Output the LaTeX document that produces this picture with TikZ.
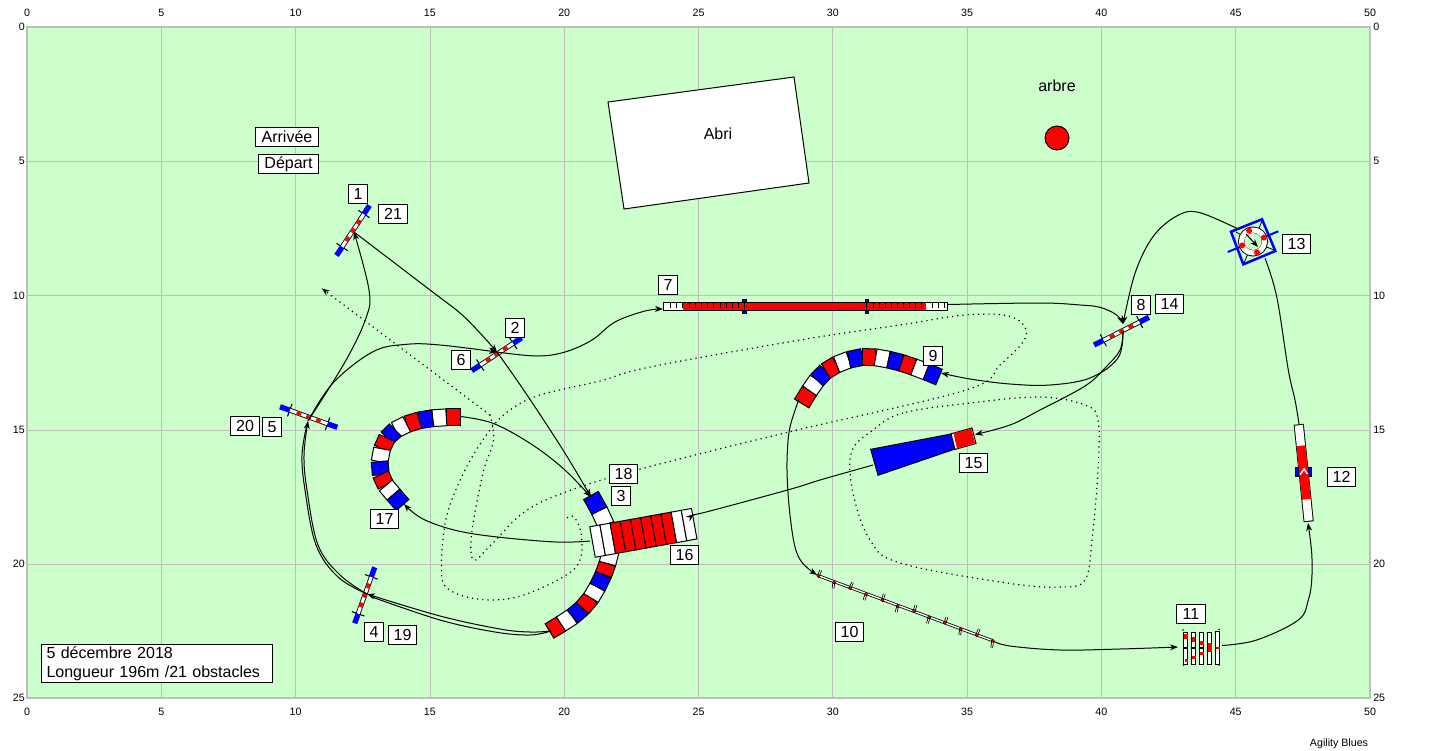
\documentclass[tikz,border=0pt]{standalone}
\usepackage{fontspec}
\setmainfont{Liberation Sans}
\usetikzlibrary{calc,arrows.meta}
\definecolor{turf}{HTML}{CCFFCC}
\definecolor{gridgrey}{HTML}{BEBEBE}
\definecolor{rred}{HTML}{FF0000}
\definecolor{bblue}{HTML}{0000FF}
\tikzset{
  course/.style={black,line width=.75pt,line join=round},
  hand/.style={black,line width=.9pt,dash pattern=on .9pt off 3pt},
  tip/.style={-{Stealth[length=6pt,width=4.5pt]}},
  lab/.style={draw=black,fill=white,line width=.75pt,inner sep=0pt,minimum height=14.25pt,minimum width=14.5pt,font=\fontsize{12}{14}\selectfont},
  labw/.style={lab,minimum width=21.25pt},
  axis/.style={inner sep=0pt,font=\fontsize{8}{9}\selectfont},
  seg/.style={draw=black,line width=.75pt,line join=miter},
  smoothp/.style={smooth,tension=.6}
}
% curved tunnel: half width, colour offset, boundary points
\newcommand\tunnelbody[3]{%
  \foreach \x/\y [remember=\x as \xp (initially 0),remember=\y as \yp (initially 0),count=\i] in {#3}{%
    \ifnum\i>1
      \pgfmathtruncatemacro\k{mod(\i+#2,3)}%
      \ifcase\k\def\cc{rred}\or\def\cc{white}\or\def\cc{bblue}\fi
      \filldraw[seg,fill=\cc] ($(\xp,\yp)!#1!90:(\x,\y)$) -- ($(\xp,\yp)!#1!-90:(\x,\y)$) -- ($(\x,\y)!#1!90:(\xp,\yp)$) -- ($(\x,\y)!#1!-90:(\xp,\yp)$) -- cycle;
    \fi
  }}
% hurdle
\newcommand\jumpbar[2]{%
  \coordinate (wa) at ($(#1)!.17!(#2)$);
  \coordinate (wb) at ($(#1)!.83!(#2)$);
  \draw[black,line width=.8pt] ($(wa)!5pt!90:(#2)$) -- ($(wa)!5pt!-90:(#2)$);
  \draw[black,line width=.8pt] ($(wb)!5pt!90:(#1)$) -- ($(wb)!5pt!-90:(#1)$);
  \draw[black,line width=3.6pt] (wa) -- (wb);
  \draw[white,line width=2.3pt] (wa) -- (wb);
  \foreach \s/\e in {.29/.37,.46/.54,.63/.71}
    \draw[rred,line width=2.4pt] ($(#1)!\s!(#2)$) -- ($(#1)!\e!(#2)$);
  \draw[bblue,line width=4pt] (#1) -- (wa);
  \draw[bblue,line width=4pt] (#2) -- (wb);
}
\begin{document}
\begin{tikzpicture}[x=.75pt,y=-.75pt]
\useasboundingbox (0,0) rectangle (1444,750);
\fill[white] (0,0) rectangle (1444,750);
% field
\fill[turf] (27,27) rectangle (1370,698);
\foreach \v in {161.5,295.5,430.5,564.5,698.5,832.5,967.5,1101.5,1235.5}
  \draw[gridgrey,line width=.9pt] (\v,27) -- (\v,698);
\foreach \v in {161.5,295.5,430.5,564.5}
  \draw[gridgrey,line width=.9pt] (27,\v) -- (1370,\v);
\draw[gridgrey,line width=2pt] (27,27) rectangle (1370,698);
% axis numbers
\foreach \n/\v [count=\c] in {0/27,5/161.3,10/295.6,15/429.9,20/564.2,25/698.5,30/832.8,35/967.1,40/1101.4,45/1235.7,50/1370}{
  \node[axis] (tx\c) at (\v,13) {\n};
  \node[axis] (bx\c) at (\v,712) {\n};
}
\foreach \n/\v [count=\c] in {0/27,5/161.2,10/295.4,15/429.6,20/563.8,25/698}{
  \node[axis,anchor=east] (ly\c) at (25,\v) {\n};
  \node[axis,anchor=west] (ry\c) at (1373,\v) {\n};
}
\node[axis] (brand) at (1339,744) {Agility Blues};
% shelter and tree
\filldraw[fill=white,draw=black,line width=.75pt] (608,102) -- (794,77) -- (809,183) -- (624,209) -- cycle;
\node[inner sep=0pt,font=\fontsize{12}{14}\selectfont] (abri) at (718,134) {Abri};
\filldraw[fill=rred,draw=black,line width=.75pt] (1057,138) circle (12);
\node[inner sep=0pt,font=\fontsize{12}{14}\selectfont] (arbre) at (1057,86) {arbre};
% obstacle anchor points
\coordinate (j1a) at (369.5,205.5); \coordinate (j1b) at (336.5,255.5);
\coordinate (j2a) at (521.7,337.7); \coordinate (j2b) at (471.7,370.7);
\coordinate (j5a) at (280,406.7);   \coordinate (j5b) at (337.3,427.3);
\coordinate (j4a) at (374.7,567.3); \coordinate (j4b) at (354.7,623.3);
\coordinate (j8a) at (1149,317.3);  \coordinate (j8b) at (1094,345);
\coordinate (in1) at (354,232);
\coordinate (in2) at (497,352);
\coordinate (in3) at (591,497);
\coordinate (in4) at (367,594);
\coordinate (in5) at (308,421);
\coordinate (in7) at (663,309);
\coordinate (in8) at (1123,324);
\coordinate (in9) at (941,373);
\coordinate (in10) at (817,575);
\coordinate (in11) at (1178,647);
\coordinate (in12) at (1308,523);
\coordinate (tyre) at (1253,241.5);
\coordinate (tyrein) at (1265,258.3);
\coordinate (tyreout) at (1237,228.5);
\coordinate (in15) at (975,434.5);
\coordinate (in16) at (694,514);
\coordinate (in17) at (404,504);
\coordinate (out3) at (551,631);
\coordinate (out7) at (947.7,304.5);
\coordinate (out8) at (1123,331);
\coordinate (out9) at (799,399);
\coordinate (out10) at (993,641);
\coordinate (out11) at (1222,645.5);
\coordinate (out12) at (1299,424);
\coordinate (out15) at (873,465);
\coordinate (out16) at (590,541);
\coordinate (out17) at (460.5,416.5);
% handler's route (dotted)
\coordinate (hookstart) at (567,518);
\coordinate (handend) at (321.7,288.3);
\draw[hand] plot[smoothp] coordinates {(hookstart) (574,517) (581,533) (580,560) (563,577) (517,597) (477,599) (447,588) (441.5,567) (446.5,517) (465,470) (490,430) (510,410) (540,395) (600,381) (650,367) (800,340) (900,325) (966,315) (1012,317) (1026,336) (1000,365) (966,390) (790,431.7) (636.7,470) (563,493) (523,513) (490,546) (473.5,560) (471.7,533) (483,473) (493.5,440) (490,415)};
\draw[hand,tip] (490,415) -- (handend);
\draw[hand] plot[smooth cycle,tension=.6] coordinates {(970,403) (903,413) (873,430) (851.5,452) (853,493) (870,540) (900,563) (1006.7,583) (1060,587) (1085,580) (1092,540) (1098,470) (1098,420) (1085,405) (1040,397)};
% jumps
\jumpbar{j1a}{j1b}
\jumpbar{j2a}{j2b}
\jumpbar{j5a}{j5b}
\jumpbar{j4a}{j4b}
\jumpbar{j8a}{j8b}
% curved tunnels
\tunnelbody{6.3pt}{1}{460/417.3,446.3/417.3,432.6/418.2,419.3/420.3,406.7/424.2,395.3/430,387/438,382/448.8,379.6/461.6,380.8/474.6,385.8/485.5,393.5/494.6,402.5/505}
\tunnelbody{6.3pt}{1}{801.7/403.5,809.5/390.7,817/380,825.8/371,836.6/364.5,849/359.7,862.3/357,875.6/357.3,888.6/359.6,901.3/362.8,913.8/367,926.3/371.8,939/377}
\tunnelbody{6.3pt}{1}{549.5/631,561/624,572.5/616.5,582.5/608,591/598,597.5/587,603.5/574.5,607.5/563.5,611/550,609/537,606/525,599.3/510.5,591/495.5}
% rigid tunnel 16
\coordinate (t16a) at (592.5,542);
\coordinate (t16b) at (694.2,523.7);
\foreach \i [evaluate=\i as \s using \i/10, evaluate=\i as \e using (\i+1)/10] in {0,...,9}{
  \ifnum\i<2 \def\cc{white}\else\ifnum\i>7 \def\cc{white}\else\def\cc{rred}\fi\fi
  \coordinate (ts) at ($(t16a)!\s!(t16b)$);
  \coordinate (te) at ($(t16a)!\e!(t16b)$);
  \filldraw[seg,fill=\cc] ($(ts)!11.6pt!90:(te)$) -- ($(ts)!11.6pt!-90:(te)$) -- ($(te)!11.6pt!90:(ts)$) -- ($(te)!11.6pt!-90:(ts)$) -- cycle;
}
% collapsed tunnel 15
\filldraw[seg,fill=bblue] (870.7,449.3) -- (878,475.3) -- (955,449) -- (951,434) -- cycle;
\filldraw[seg,fill=white] (951,433.8) -- (955,449.4) -- (976,443.5) -- (972,428) -- cycle;
\fill[rred] (953.5,433.3) -- (957,448.4) -- (975,443) -- (971.3,428.6) -- cycle;
% dog walk 7
\filldraw[fill=white,draw=black,line width=.75pt] (663.3,302.3) rectangle (947.7,310.3);
\fill[rred] (683.3,302.7) rectangle (926,309.9);
\foreach \v in {670,676,682,689.4,695.5,701.6,707.7,713.8,719.9,726,732.1,738.2,873,879,885,891,897,903,909,915,921,932,938,944}
  \draw[black,line width=.6pt] (\v,302.3) -- (\v,308);
\foreach \v in {744,866.7}{
  \draw[black,line width=.75pt] (\v,300) -- (\v,312.5);
  \fill[bblue,draw=black,line width=.2pt] (\v-1.7,299.3) rectangle (\v+1.7,302);
  \fill[bblue,draw=black,line width=.2pt] (\v-1.7,310.7) rectangle (\v+1.7,313.3);
}
% weave poles 10
\coordinate (w10a) at (818.3,575.7);
\coordinate (w10b) at (992.7,640.7);
\draw[black,line width=2.2pt] (w10a) -- (w10b);
\draw[white,line width=1pt] (w10a) -- (w10b);
\foreach \x/\y/\dx/\dy in {818.3/575.7/2.5/-5.5,834/582.3/-1/6,850/588/2.5/-5.5,866/594/-2/6,882.3/600/2/-6,897.7/606/-1.5/6,914/611/2/-6,929/617.3/-1.5/6,945/622.7/2/-5.5,960.7/629/-1/6,976.7/635/2.5/-6,992.7/640.7/-1/7}{
  \draw[black,line width=1.9pt] (\x,\y) -- ++(\dx,\dy);
  \draw[white,line width=.7pt] (\x,\y) -- ++(\dx,\dy);
  \fill[rred,draw=black,line width=.3pt] (\x,\y) circle (1.7);
}
% hoops 11
\foreach \v in {1185.7,1193.3,1201.7,1209.7}{
  \filldraw[fill=white,draw=black,line width=.75pt] (\v-2,632.7) rectangle (\v+2,647.3);
  \filldraw[fill=white,draw=black,line width=.75pt] (\v-2,648.7) rectangle (\v+2,664.3);
}
\filldraw[fill=white,draw=black,line width=.75pt] (1215.7,631) rectangle (1219.7,647.3);
\filldraw[fill=white,draw=black,line width=.75pt] (1215.7,648.7) rectangle (1219.7,664.3);
\fill[rred] (1184,633.5) rectangle (1187.6,638.5);
\fill[rred] (1191.5,636.5) rectangle (1195.2,641.5);
\fill[rred] (1199.5,640.5) rectangle (1203.5,645);
\fill[rred] (1207.7,643) rectangle (1211.7,652);
\fill[rred] (1216,647.3) rectangle (1219.7,649);
\fill[rred] (1184.5,659) rectangle (1188,661.5);
\fill[rred] (1192,656) rectangle (1196,659);
\fill[rred] (1200,652) rectangle (1204,655);
\foreach \x/\y in {1183/630,1219/629.5,1183.5/665,1219/665}
  \fill[black] (\x,\y) circle (.9);
% A-frame 12
\coordinate (af1) at (1298.7,424.3);
\coordinate (af2) at (1308.7,521.7);
\coordinate (afm) at ($(af1)!.49!(af2)$);
\fill[bblue,draw=black,line width=.3pt] ($(afm)+(-8,-4.5)$) rectangle ($(afm)+(8,4.5)$);
\draw[black,line width=7.6pt] (af1) -- (af2);
\draw[white,line width=6.2pt] ($(af1)!.01!(af2)$) -- ($(af1)!.99!(af2)$);
\draw[rred,line width=6.6pt] ($(af1)!.22!(af2)$) -- ($(af1)!.77!(af2)$);
\draw[white,line width=1.1pt] ($(afm)+(-3.5,2.5)$) -- ($(afm)+(.5,-3)$) -- ($(afm)+(3.8,2)$);
% tyre 13
\draw[black,line width=.6pt] (1236,232) -- (tyre) (1262,221) -- (tyre) (1274,250) -- (tyre) (1244,263) -- (tyre);
\draw[bblue,line width=1.5pt] (1227.7,252) -- (1278.3,231.3);
\draw[black,line width=5.2pt] (tyre) circle (11.5);
\draw[white,line width=3.8pt] (tyre) circle (11.5);
\fill[turf] (tyre) circle (8.5);
\foreach \a in {-110,-20,70,160}
  \fill[rred] ($(tyre)+(\a:11.5)$) circle (3);
\draw[bblue,line width=1.9pt] (1231,231.7) -- (1262,219.3) -- (1275.3,251) -- (1243.3,264.3) -- cycle;
\draw[course,tip] (1246,234) -- (1258,247);
% course
\draw[course,tip] plot[smoothp] coordinates {(in1) (430,290) (460,313) (480,333) (in2)};
\draw[course,tip] plot[smoothp] coordinates {(in2) (525,392) (563,450) (in3)};
\draw[course,tip] plot[smoothp] coordinates {(out3) (530,632) (500,629) (440,616) (in4)};
\draw[course] plot[smoothp] coordinates {(out3) (530,635) (495,632) (440,620) (372,597)};
\draw[course,tip] plot[smoothp] coordinates {(in4) (340,575) (318,545) (307,490) (304,455) (in5)};
\draw[course] plot[smoothp] coordinates {(in4) (338,577) (316,545) (305,490) (302,455) (307,424)};
\draw[course,tip] plot[smoothp] coordinates {(in5) (333,383) (373,351.7) (406.7,344.3) (440,345) (in2)};
\draw[course,tip] plot[smoothp] coordinates {(in5) (345,362) (366,318) (369,290) (in1)};
\draw[course,tip] plot[smoothp] coordinates {(in2) (537,356) (565,352) (592,340) (615,322) (645,311) (in7)};
\draw[course,tip] plot[smoothp] coordinates {(out7) (1040,303) (1080,305) (1100,307.3) (1116.7,315) (in8)};
\draw[course,tip] plot[smoothp] coordinates {(out8) (1118,358) (1090,378) (1050,385) (1010,384) (970,379) (in9)};
\draw[course,tip] plot[smoothp] coordinates {(out9) (790,427) (787.3,453) (787.3,480) (790,515) (795,547) (802.7,563.3) (in10)};
\draw[course,tip] plot[smoothp] coordinates {(out10) (1010,646) (1060,650) (1120,649) (in11)};
\draw[course,tip] plot[smoothp] coordinates {(out11) (1256.7,640) (1298.3,620) (1308.3,600) (1311.7,580) (1311.7,553) (in12)};
\draw[course] plot[smoothp] coordinates {(out12) (1295,400) (1288.3,370) (1276.7,296.7) (tyrein)};
\draw[course,tip] plot[smoothp] coordinates {(tyreout) (1198.3,212.3) (1176.7,216) (1153,236.7) (1135,273.3) (in8)};
\draw[course,tip] plot[smoothp] coordinates {(out8) (1120,350) (1105,368) (1085,386) (1040,410) (1010,425) (in15)};
\draw[course,tip] plot[smoothp] coordinates {(out15) (820,480) (790,489.3) (708,511.5) (in16)};
\draw[course,tip] plot[smoothp] coordinates {(out16) (550,541.7) (470,533.3) (425,520) (in17)};
\draw[course,tip] plot[smoothp] coordinates {(out17) (493,423.3) (530,443.3) (563,468.3) (in3)};
% labels
\node[lab,minimum width=47.25pt] (arrivee) at (287,137) {Arrivée};
\node[lab,minimum width=45pt] (depart) at (288.5,164) {Départ};
\node[lab] (n1) at (358,194) {1};
\node[labw] (n21) at (393,214) {21};
\node[lab] (n2) at (515,327.5) {2};
\node[lab] (n6) at (461,360) {6};
\node[labw] (n20) at (245,426) {20};
\node[lab] (n5) at (272,427) {5};
\node[lab] (n7) at (668,285) {7};
\node[lab] (n8) at (1141,305) {8};
\node[labw] (n14) at (1169.5,303.5) {14};
\node[labw] (n13) at (1296.5,243.7) {13};
\node[lab] (n9) at (933,356) {9};
\node[labw] (n15) at (973.5,463) {15};
\node[labw] (n12) at (1341.5,476.7) {12};
\node[labw] (n11) at (1191,614) {11};
\node[labw] (n10) at (849.5,632) {10};
\node[labw] (n16) at (684.5,555) {16};
\node[labw] (n18) at (623.5,474) {18};
\node[lab] (n3) at (621,495.5) {3};
\node[labw] (n17) at (384.5,518.7) {17};
\node[lab] (n4) at (374,632) {4};
\node[labw] (n19) at (402.5,634.5) {19};
\node[draw=black,fill=white,line width=.75pt,inner sep=0pt,minimum width=173.25pt,minimum height=28.5pt,text width=166pt,align=left,font=\fontsize{12}{14.25}\selectfont] (info) at (157.2,663.3) {5 décembre 2018\\Longueur 196m /21 obstacles};
\end{tikzpicture}
\end{document}
